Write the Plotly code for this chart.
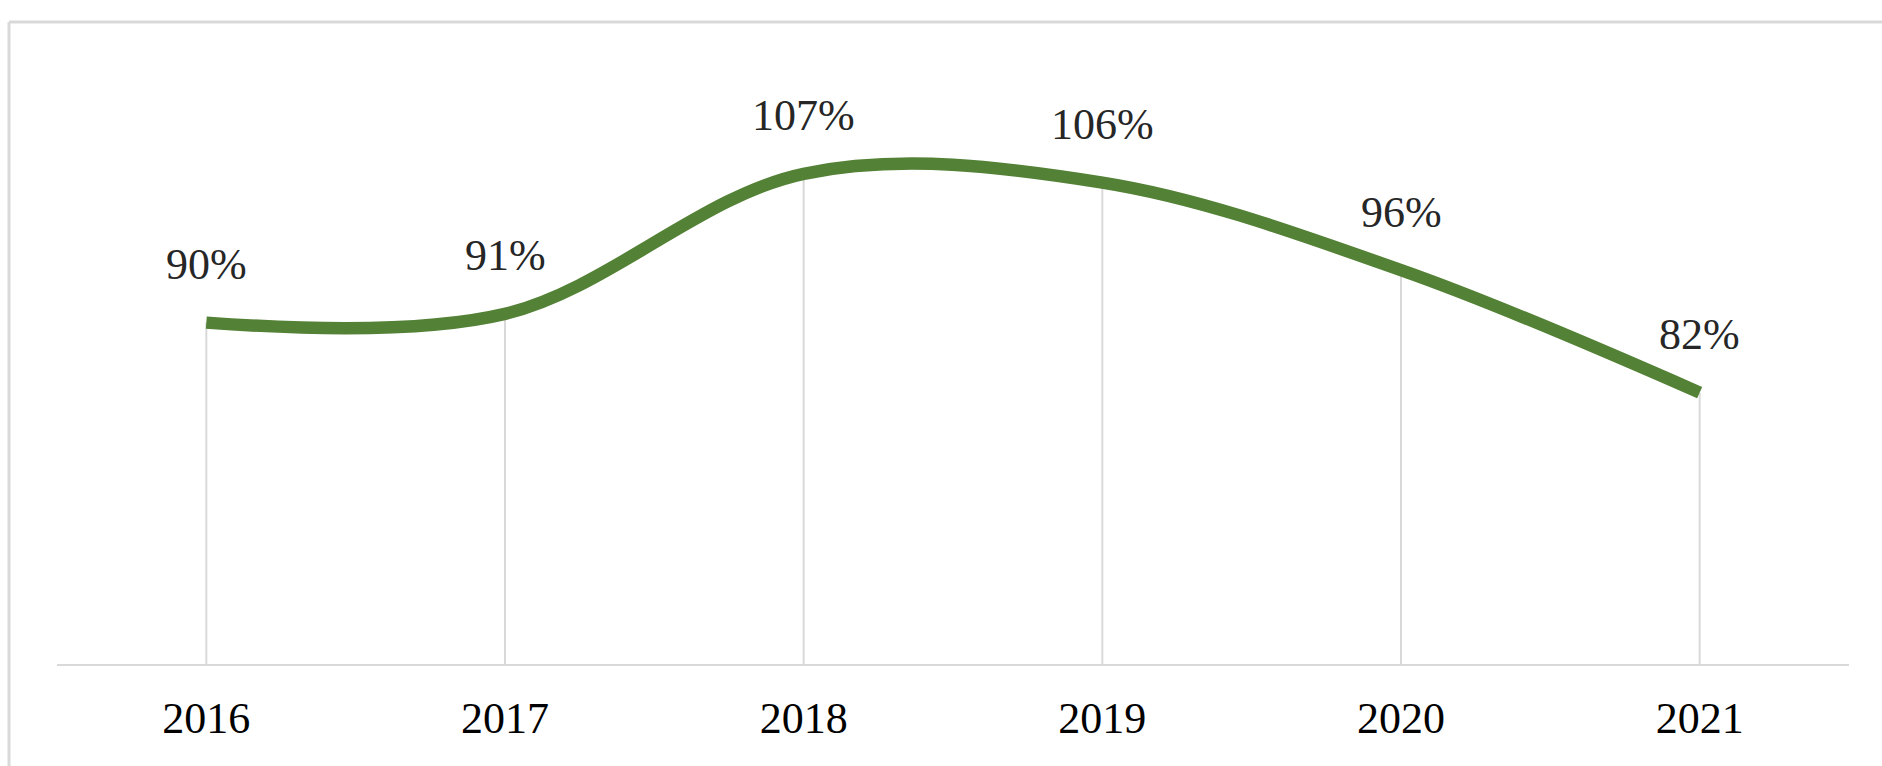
import plotly.graph_objects as go

years = ["2016", "2017", "2018", "2019", "2020", "2021"]
values = [90, 91, 107, 106, 96, 82]
labels = ["90%", "91%", "107%", "106%", "96%", "82%"]

Y_MIN, Y_MAX = 51, 120
FONT = "Liberation Serif, Times New Roman, serif"

fig = go.Figure()

# drop lines from each point to the axis (error bars below the points)
fig.add_trace(go.Scatter(
    x=years, y=values, mode="markers",
    marker=dict(size=1, color="rgba(0,0,0,0)"),
    error_y=dict(type="data", symmetric=False,
                 array=[0] * len(values),
                 arrayminus=[v - Y_MIN for v in values],
                 width=0, thickness=2, color="#d9d9d9"),
    hoverinfo="skip", showlegend=False,
))

fig.add_trace(go.Scatter(
    x=years, y=values, mode="lines",
    line=dict(color="#538135", width=12.5, shape="spline", smoothing=1.0),
    hoverinfo="skip", showlegend=False,
))

for i, (v, t) in enumerate(zip(values, labels)):
    fig.add_annotation(x=i, y=v, text=t, showarrow=False, yshift=58,
                       font=dict(family=FONT, size=44, color="#262626"))

# outer chart border (top and left visible)
W, H = 1882, 766
L, R, T, B = 57, 33, 60, 102
pw, ph = W - L - R, H - T - B
def px(xp): return (xp - L) / pw
def py(yp): return (H - B - yp) / ph
fig.add_shape(type="line", xref="paper", yref="paper", x0=px(9), x1=px(1900), y0=py(22), y1=py(22),
              line=dict(color="#d9d9d9", width=3))
fig.add_shape(type="line", xref="paper", yref="paper", x0=px(9), x1=px(9), y0=py(22), y1=py(800),
              line=dict(color="#d9d9d9", width=3))

fig.update_layout(
    width=W, height=H,
    margin=dict(l=L, r=R, t=T, b=B),
    paper_bgcolor="white", plot_bgcolor="white",
    xaxis=dict(type="category", showgrid=False, zeroline=False,
               range=[-0.5, len(years) - 0.5],
               showline=True, linecolor="#d9d9d9", linewidth=2,
               ticks="", tickfont=dict(family=FONT, size=44, color="black"),
               ticklabelstandoff=14),
    yaxis=dict(range=[Y_MIN, Y_MAX], visible=False, showgrid=False, zeroline=False),
)

fig.write_html("out.html")
